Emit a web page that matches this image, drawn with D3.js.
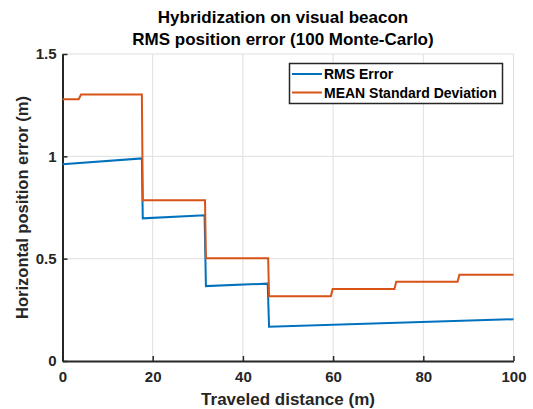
<!DOCTYPE html>
<html>
<head>
<meta charset="utf-8">
<script src="https://cdn.jsdelivr.net/npm/d3@7"></script>
<style>
  body { margin: 0; background: #fff; }
  text { font-family: "Liberation Sans", Arial, Helvetica, sans-serif; font-weight: bold; fill: #262626; }
</style>
</head>
<body>
<div id="chart"></div>
<script>
// RMS error (blue), traveled distance vs error
const rmsX = [0, 17.6, 17.8, 31.5, 31.8, 45.5, 45.8, 100];
const rmsY = [0.961, 0.99, 0.697, 0.712, 0.366, 0.378, 0.167, 0.204];

// mean standard deviation (orange)
const stdX = [0, 3.6, 4.1, 17.6, 17.8, 31.6, 31.8, 45.6, 45.8, 59.5, 59.9, 73.6, 74.0, 87.6, 88.0, 100];
const stdY = [1.279, 1.279, 1.302, 1.302, 0.786, 0.786, 0.502, 0.502, 0.316, 0.316, 0.352, 0.352, 0.387, 0.387, 0.421, 0.421];

const xTicks = [0, 20, 40, 60, 80, 100];
const yTicks = [0, 0.5, 1, 1.5];
const yTickLabels = ["0", "0.5", "1", "1.5"];
const seriesNames = ["RMS Error", "MEAN Standard Deviation"];
const seriesColors = ["#0072BD", "#D95319"];

const W = 533, H = 409;
const m = { left: 62.5, right: 19.5, top: 54, bottom: 48 };

const svg = d3.select("#chart").append("svg")
  .attr("width", W)
  .attr("height", H);

const x = d3.scaleLinear().domain([0, 100]).range([m.left, W - m.right]);
const y = d3.scaleLinear().domain([0, 1.5]).range([H - m.bottom, m.top]);

// grid
const grid = svg.append("g").attr("stroke", "#dfdfdf").attr("stroke-width", 1);
grid.selectAll(".gx").data(xTicks.slice(1)).enter().append("line")
  .attr("x1", d => x(d)).attr("x2", d => x(d))
  .attr("y1", y(0)).attr("y2", y(1.5));
grid.selectAll(".gy").data(yTicks.slice(1)).enter().append("line")
  .attr("x1", x(0)).attr("x2", x(100))
  .attr("y1", d => y(d)).attr("y2", d => y(d));

// axes (matlab style, ticks inward)
const xAxis = d3.axisBottom(x).tickValues(xTicks).tickSize(-5).tickPadding(10).tickSizeOuter(0);
const yAxis = d3.axisLeft(y).tickValues(yTicks).tickSize(-5).tickPadding(6).tickSizeOuter(0)
  .tickFormat((d, i) => yTickLabels[i]);

const gx = svg.append("g").attr("transform", `translate(0,${y(0)})`).call(xAxis);
const gy = svg.append("g").attr("transform", `translate(${x(0)},0)`).call(yAxis);
[gx, gy].forEach(g => {
  g.select(".domain").attr("stroke", "#262626").attr("stroke-width", 2);
  g.selectAll(".tick line").attr("stroke", "#262626").attr("stroke-width", 1.5);
  g.selectAll(".tick text").style("font-size", "15px").attr("fill", "#262626")
    .style("font-family", "'Liberation Sans', Arial, sans-serif").style("font-weight", "bold");
});
gx.selectAll(".tick text").attr("dy", "0.71em");

// lines
const line = d3.line().x(d => x(d[0])).y(d => y(d[1]));
const rmsData = rmsX.map((v, i) => [v, rmsY[i]]);
const stdData = stdX.map((v, i) => [v, stdY[i]]);

svg.append("path").datum(rmsData)
  .attr("fill", "none").attr("stroke", seriesColors[0]).attr("stroke-width", 2)
  .attr("d", line);
svg.append("path").datum(stdData)
  .attr("fill", "none").attr("stroke", seriesColors[1]).attr("stroke-width", 2)
  .attr("d", line);

// titles
svg.append("text").attr("x", 283).attr("y", 23).attr("text-anchor", "middle")
  .style("font-size", "17px").style("fill", "#000").text("Hybridization on visual beacon");
svg.append("text").attr("x", 283).attr("y", 45).attr("text-anchor", "middle")
  .style("font-size", "17px").style("fill", "#000").text("RMS position error (100 Monte-Carlo)");

svg.append("text").attr("x", 288).attr("y", 405).attr("text-anchor", "middle")
  .style("font-size", "17px").text("Traveled distance (m)");
svg.append("text")
  .attr("transform", `translate(28,${(y(0) + y(1.5)) / 2}) rotate(-90)`)
  .attr("text-anchor", "middle")
  .style("font-size", "16.5px").text("Horizontal position error (m)");

// legend
const lg = svg.append("g");
lg.append("rect").attr("x", 289.5).attr("y", 63.5).attr("width", 213).attr("height", 40)
  .attr("fill", "#fff").attr("stroke", "#262626").attr("stroke-width", 1.5);
seriesNames.forEach((name, i) => {
  const yy = 74 + i * 18.5;
  lg.append("line").attr("x1", 292).attr("x2", 322).attr("y1", yy).attr("y2", yy)
    .attr("stroke", seriesColors[i]).attr("stroke-width", 2);
  lg.append("text").attr("x", 324).attr("y", yy + 5)
    .style("font-size", "14px").style("fill", "#000").text(name);
});
</script>
</body>
</html>
